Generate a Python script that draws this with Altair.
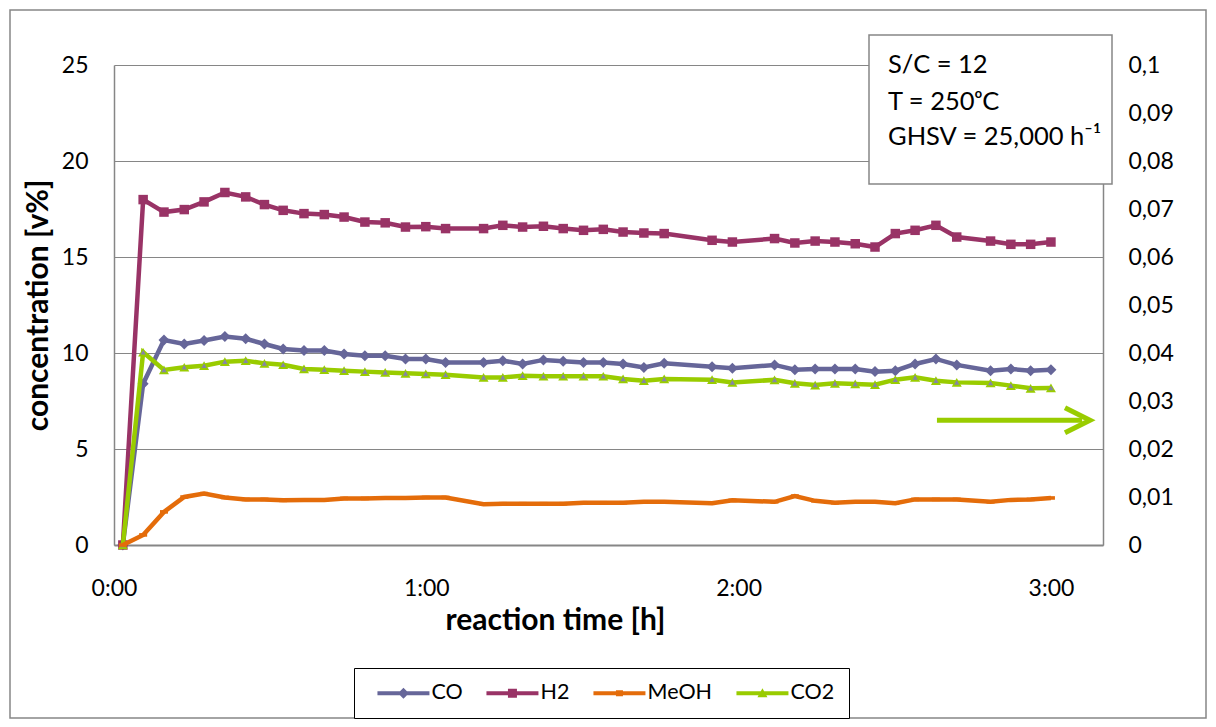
import altair as alt
import pandas as pd

# ---- data (time in minutes) ----
time_min = [1.7, 5.6, 9.6, 13.5, 17.3, 21.3, 25.3, 28.9, 32.5, 36.5, 40.4, 44.2, 48.2, 52.1,
            56.0, 59.9, 63.7, 71.0, 74.7, 78.5, 82.5, 86.3, 90.2, 94.0, 97.8, 101.8, 105.7,
            114.9, 118.8, 126.9, 130.8, 134.7, 138.5, 142.4, 146.2, 150.1, 153.9, 157.9,
            161.9, 168.4, 172.3, 176.1, 180.0]
co = [0, 8.4, 10.68, 10.47, 10.65, 10.86, 10.74, 10.47, 10.21, 10.13, 10.13, 9.95, 9.86, 9.86,
      9.69, 9.69, 9.51, 9.51, 9.6, 9.43, 9.64, 9.57, 9.51, 9.51, 9.43, 9.25, 9.46, 9.29, 9.2,
      9.38, 9.13, 9.17, 9.17, 9.17, 9.03, 9.08, 9.43, 9.69, 9.38, 9.08, 9.17, 9.08, 9.13]
h2 = [0, 17.99, 17.34, 17.47, 17.87, 18.36, 18.13, 17.73, 17.43, 17.26, 17.21, 17.08, 16.82,
      16.78, 16.56, 16.58, 16.48, 16.48, 16.65, 16.56, 16.6, 16.48, 16.39, 16.44, 16.3, 16.25,
      16.22, 15.87, 15.78, 15.96, 15.73, 15.83, 15.78, 15.69, 15.52, 16.22, 16.39, 16.65, 16.04,
      15.83, 15.66, 15.66, 15.78]
co2 = [0, 10.04, 9.12, 9.26, 9.34, 9.55, 9.6, 9.46, 9.39, 9.17, 9.13, 9.08, 9.03, 8.99, 8.94,
       8.91, 8.87, 8.73, 8.73, 8.82, 8.79, 8.79, 8.79, 8.79, 8.65, 8.56, 8.65, 8.61, 8.47, 8.6,
       8.42, 8.33, 8.42, 8.39, 8.35, 8.61, 8.73, 8.56, 8.47, 8.44, 8.3, 8.16, 8.18]
# MeOH on the secondary (right) axis
meoh = [0, 0.0021, 0.0069, 0.0100, 0.0107, 0.0099, 0.0095, 0.0095, 0.0093, 0.0094, 0.0094,
        0.0097, 0.0097, 0.0098, 0.0098, 0.0099, 0.0099, 0.0085, 0.0086, 0.0086, 0.0086, 0.0086,
        0.0088, 0.0088, 0.0088, 0.0090, 0.0090, 0.0087, 0.0093, 0.0090, 0.0102, 0.0092, 0.0088,
        0.0090, 0.0090, 0.0087, 0.0095, 0.0095, 0.0095, 0.0090, 0.0094, 0.0095, 0.0098]

series_names = ["CO", "H2", "MeOH", "CO2"]
series_colors = ["#666699", "#993366", "#E46C0A", "#99CC00"]
x_ticks = [0, 60, 120, 180]
y_ticks = [0, 5, 10, 15, 20, 25]
y2_ticks = [0, 0.01, 0.02, 0.03, 0.04, 0.05, 0.06, 0.07, 0.08, 0.09, 0.1]
info_lines = ["S/C = 12", "T = 250\u1d52C", "GHSV = 25,000 h\u207b\u00b9"]
arrow_start = [158.1]
arrow_end = [186.0]
arrow_tip = [187.5]
arrow_level = [6.5]

FONT = "Lato"
GRAY = "#868686"
W, H = 989, 480

df = pd.DataFrame({"t": time_min, "CO": co, "H2": h2, "CO2": co2, "MeOH": meoh})
arrow_df = pd.DataFrame({"t": arrow_start, "t2": arrow_end, "tip": arrow_tip, "v": arrow_level})
one = pd.DataFrame({"k": [0]})

x_axis = alt.Axis(values=x_ticks, labelExpr="floor(datum.value/60) + ':00'",
                  title="reaction time [h]", grid=False, tickSize=0, domainColor=GRAY,
                  domainWidth=2, labelPadding=43, labelBaseline="middle", labelFlush=False,
                  titleX=441, titleY=75, titleBaseline="middle", titleAlign="center")
x_scale = alt.Scale(domain=[0, 190], nice=False, zero=False)
X = alt.X("t:Q", scale=x_scale, axis=x_axis)

y_axis = alt.Axis(values=y_ticks, grid=True, gridColor=GRAY, gridWidth=1, tickSize=0,
                  domainColor=GRAY, domainWidth=1.5, labelPadding=26,
                  title="concentration [v%]", titleX=-76, titleY=240, titleAngle=270,
                  titleBaseline="middle", titleAlign="center")


def Y(field):
    return alt.Y(f"{field}:Q", scale=alt.Scale(domain=[0, 25], nice=False), axis=y_axis)


y2_axis = alt.Axis(values=y2_ticks, orient="right", grid=False, tickSize=0, domainColor=GRAY,
                   domainWidth=1.5, labelPadding=25, title="",
                   labelExpr="replace(format(datum.value, '.2~f'), '.', ',')")
Y2 = alt.Y("MeOH:Q", scale=alt.Scale(domain=[0, 0.1], nice=False), axis=y2_axis)

base = alt.Chart(df)
c_co, c_h2, c_me, c_co2 = series_colors

left_layers = [
    base.mark_line(color=c_co, strokeWidth=4.5).encode(x=X, y=Y("CO")),
    base.mark_point(shape="diamond", filled=True, size=121, color=c_co, opacity=1).encode(x=X, y=Y("CO")),
    base.mark_line(color=c_h2, strokeWidth=4.5).encode(x=X, y=Y("H2")),
    base.mark_point(shape="square", filled=True, size=90, color=c_h2, opacity=1).encode(x=X, y=Y("H2")),
    base.mark_line(color=c_co2, strokeWidth=4.5).encode(x=X, y=Y("CO2")),
    base.mark_point(shape="triangle-up", filled=True, size=100, color=c_co2, opacity=1).encode(x=X, y=Y("CO2")),
    base.mark_point(shape="triangle-up", filled=True, size=28, color="#8585a6", opacity=1).encode(x=X, y=Y("CO2")),
    alt.Chart(arrow_df).mark_rule(color=c_co2, strokeWidth=5).encode(x=X, x2="t2:Q", y=Y("v")),
    alt.Chart(arrow_df).mark_point(shape="M-1,-0.5L0,0L-1,0.5", filled=False, size=2500,
                                   strokeWidth=5, color=c_co2, opacity=1,
                                   strokeJoin="miter").encode(
        x=alt.X("tip:Q", scale=x_scale, axis=x_axis), y=Y("v")),
]
left = alt.layer(*left_layers)

right = alt.layer(
    base.mark_line(color=c_me, strokeWidth=4.5).encode(x=X, y=Y2),
    base.mark_point(shape="M-1,-0.45H1V0.45H-1Z", filled=True, size=64, color=c_me, opacity=1).encode(x=X, y=Y2),
)

line_path = "M-2.6,-0.2H2.6V0.2H-2.6Z "
legend_paths = [
    line_path + "M-0.55,0L0,-0.55L0.55,0L0,0.55Z",
    line_path + "M-0.45,-0.45H0.45V0.45H-0.45Z",
    line_path + "M-0.35,-0.3H0.35V0.3H-0.35Z",
    line_path + "M0,-0.5L0.5,0.4H-0.5Z",
]
leg = alt.Legend(title=None, orient="none", legendX=240, legendY=603, direction="horizontal",
                 symbolSize=400, symbolOffset=24.7, labelOffset=17.3, columnPadding=14,
                 padding=14, strokeColor="black", fillColor="white", symbolStrokeWidth=0,
                 symbolOpacity=1, labelFont=FONT, labelFontSize=21.5, labelColor="black")
legend_proxy = alt.Chart(pd.DataFrame({"series": series_names})).mark_point(
    filled=True, opacity=0).encode(
    color=alt.Color("series:N", scale=alt.Scale(domain=series_names, range=series_colors), legend=leg),
    shape=alt.Shape("series:N", scale=alt.Scale(domain=series_names, range=legend_paths), legend=leg),
)

border = alt.Chart(one).mark_rect(fill="transparent", stroke=GRAY, strokeWidth=1.5).encode(
    x=alt.value(-104), x2=alt.value(1092), y=alt.value(-55), y2=alt.value(653))
info_box = alt.Chart(one).mark_rect(fill="white", stroke=GRAY, strokeWidth=1.5).encode(
    x=alt.value(755), x2=alt.value(998), y=alt.value(-30), y2=alt.value(119))
info_texts = [
    alt.Chart(one).mark_text(align="left", baseline="middle", font=FONT, fontSize=25.5,
                             color="black").encode(x=alt.value(774), y=alt.value(yy), text=alt.value(txt))
    for txt, yy in zip(info_lines, [0, 36.7, 71.7])
]

chart = alt.layer(left, right, border, info_box, *info_texts, legend_proxy).resolve_scale(
    y="independent", color="independent", shape="independent"
).properties(
    width=W, height=H,
    autosize=alt.AutoSizeParams(type="none"),
    padding={"left": 106, "top": 57, "right": 105, "bottom": 174},
).configure_view(strokeWidth=0).configure_axis(
    labelFont=FONT, titleFont=FONT, labelFontSize=23, titleFontSize=30, titleFontWeight="bold",
    labelColor="black", titleColor="black"
)

chart.save("out.html", embed_options={"renderer": "svg", "actions": False})
